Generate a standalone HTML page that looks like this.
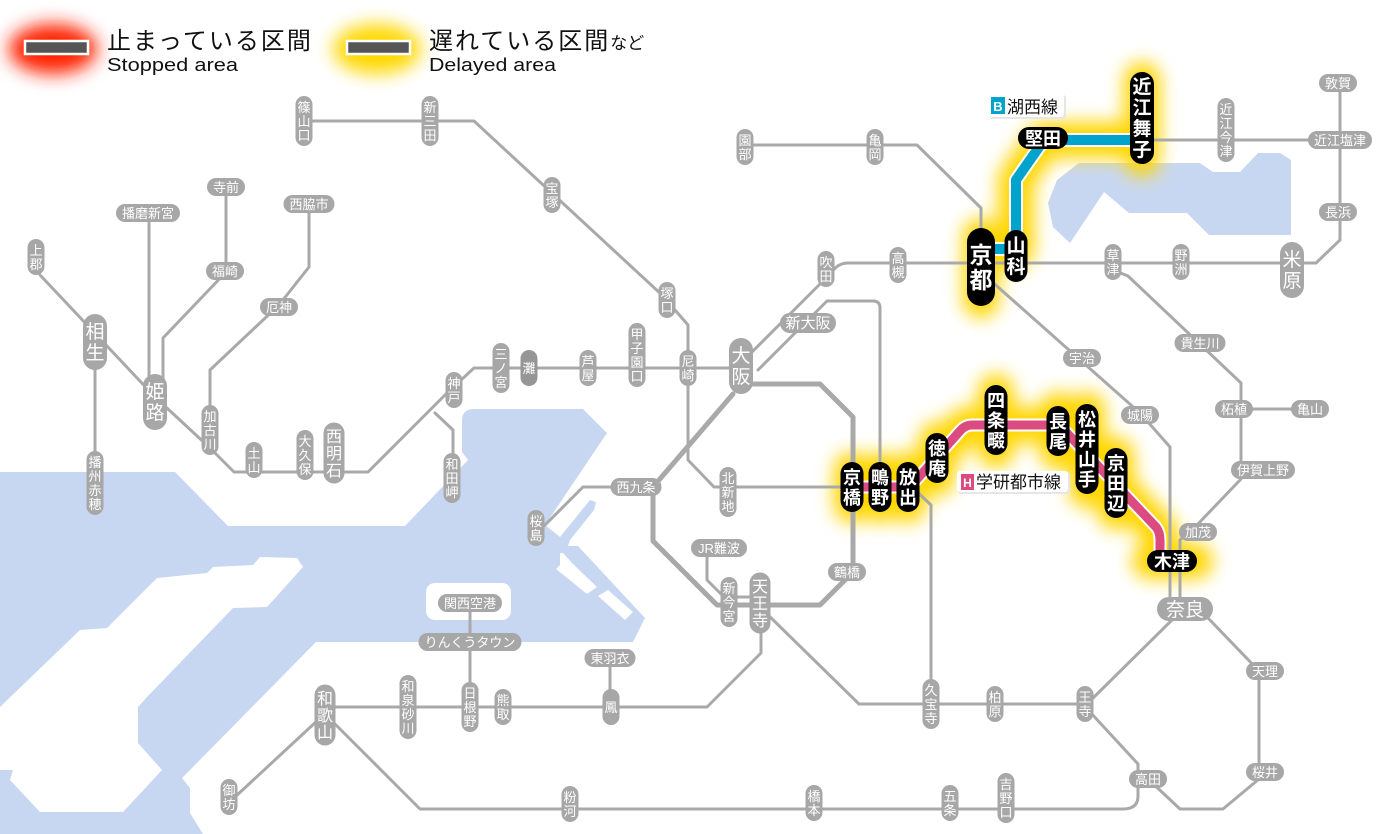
<!DOCTYPE html>
<html><head><meta charset="utf-8">
<style>
html,body{margin:0;padding:0;background:#fff;}
svg{display:block;}
.l{fill:none;stroke:#a9a9a9;stroke-width:3;stroke-linejoin:round;stroke-linecap:round}
.p{fill:#a7a7a7}
.t{fill:#fff;font-family:"Liberation Sans","Noto Sans CJK JP",sans-serif;font-size:13px;text-anchor:middle}
.T{fill:#fff;font-family:"Liberation Sans","Noto Sans CJK JP",sans-serif;font-size:19px;text-anchor:middle}
.M{fill:#fff;font-family:"Liberation Sans","Noto Sans CJK JP",sans-serif;font-size:16px;text-anchor:middle}
.k{fill:#000}
.w{fill:#fff;font-family:"Liberation Sans","Noto Sans CJK JP",sans-serif;font-size:18px;font-weight:bold;text-anchor:middle}
.j{font-family:"Liberation Sans","Noto Sans CJK JP",sans-serif;fill:#111}
</style></head>
<body>
<svg width="1400" height="834" viewBox="0 0 1400 834" xmlns="http://www.w3.org/2000/svg">
<defs>
<filter id="g" x="0" y="0" width="1400" height="834" filterUnits="userSpaceOnUse"><feGaussianBlur stdDeviation="9"/></filter>
<filter id="g2" x="0" y="0" width="1400" height="834" filterUnits="userSpaceOnUse"><feGaussianBlur stdDeviation="9"/></filter>
</defs>
<rect width="1400" height="834" fill="#fff"/>

<!-- water -->
<path fill="#c8d7f1" d="M0,472 H175 L228,526 H405 L468,460 L462,452 V421 Q462,409 474,409 H583 L607,433 L545,525 L560,537 L590,500 L596,502 L594,510 L570,540 L568,546 L578,546 L645,618 L633,642 H316 L190,770 L182,778 L190,788 V813 L203,834 H0 Z"/>
<!-- Awaji -->
<path fill="#fff" d="M260,557 L297,558 L303,567 L267,607 L233,608 L147,697 L138,707 V743 L162,770 L123,812 H40 L10,780 L13,770 H0 V707 L80,630 L107,628 L157,578 L207,573 L213,567 L253,565 Z"/>
<!-- harbor islands -->
<path fill="#fff" d="M547,553 H560 V565 L556,569 L587,594 L597,587 L572,563 L563,553 Z"/>
<path fill="#fff" d="M598,596 L608,590 L633,612 L625,620 Z"/>
<!-- airport -->
<rect x="426" y="583" width="85" height="37" rx="9" fill="#fff"/>
<!-- Biwa lake -->
<path fill="#c8d7f1" d="M1079,163 H1200 L1213,172 H1240 L1258,153 H1280 L1291,160 V235 H1209 L1187,213 H1129 L1104,192 L1070,243 L1053,227 L1048,203 L1057,180 Z"/>

<!-- legend -->
<ellipse cx="53" cy="49" rx="44" ry="25" fill="#ff2400" filter="url(#g)"/>
<rect x="25" y="41" width="63" height="13" fill="#555" stroke="#fff" stroke-width="2.5"/>
<ellipse cx="377" cy="49" rx="44" ry="25" fill="#ffd800" filter="url(#g)"/>
<rect x="347" y="41" width="63" height="13" fill="#555" stroke="#fff" stroke-width="2.5"/>
<text class="j" x="107" y="49" font-size="24" letter-spacing="2">止まっている区間</text>
<text class="j" x="107" y="71" font-size="18" textLength="131" lengthAdjust="spacingAndGlyphs">Stopped area</text>
<text class="j" x="429" y="49" font-size="24" letter-spacing="2">遅れている区間<tspan font-size="17" letter-spacing="0">など</tspan></text>
<text class="j" x="429" y="71" font-size="18" textLength="127" lengthAdjust="spacingAndGlyphs">Delayed area</text>

<!-- yellow glow -->
<path fill="none" stroke="#ffd600" stroke-width="36" stroke-linecap="round" stroke-linejoin="round" filter="url(#g2)" d="M852,487 H910 L966,425 H1058 L1160,532 V561 M1150,561 H1195 M852,470 V505 M880,470 V505 M908,470 V505 M937,440 V478 M996,392 V450 M1058,410 V452 M1087,410 V490 M1116,455 V512 M981,236 V300 M981,250 H1016 V180 L1044,140 H1142 M1142,80 V158"/>

<!-- gray lines -->
<g class="l">
<path d="M304,121 H474 L662,295 L688,325 V460 L714,487 H853"/>
<path d="M745,145 H917 L981,208 V235"/>
<path d="M848,263 H1316 L1340,240 V83"/>
<path d="M848,263 Q838,263 832,272 L748,356"/>
<path d="M758,370 L827,301 H873 Q880,301 880,308 V487"/>
<path d="M741,384 H820 L853,417 V572 L820,605 H717 L653,541 V487 L733,394" style="stroke-width:5"/>
<path d="M40,275 L155,397 L209,447 L234,472 H368 L446,394 L474,368 H741"/>
<path d="M95,342 V483"/>
<path d="M149,213 V395"/>
<path d="M226,187 V272 L163,338 V395"/>
<path d="M309,204 V267 L279,305 L210,370 V430"/>
<path d="M435,413 L453,430 V478"/>
<path d="M636,487 H583 L543,527"/>
<path d="M707,548 V580 L724,597"/>
<path d="M729,597 H760"/>
<path d="M761,610 V653 L707,707 H326"/>
<path d="M470,603 V707"/>
<path d="M610,658 V707"/>
<path d="M318,720 L235,797"/>
<path d="M333,722 L420,809 H1123 Q1138,809 1138,796 V779"/>
<path d="M765,612 L859,704 H1087"/>
<path d="M1087,704 L1172,620"/>
<path d="M1090,712 L1138,764 V779"/>
<path d="M1148,779 L1180,809 H1223 L1259,779 V671 L1208,618 L1188,608"/>
<path d="M990,280 L1140,413 L1170,447 V608"/>
<path d="M1113,270 L1128,276 L1241,383 V479 L1197,525 L1180,540 V608"/>
<path d="M1241,409 H1310"/>
<path d="M1142,140 H1340"/>
<path d="M912,487 L931,505 V706"/>
</g>

<!-- gray pills vertical -->
<g class="p">
<rect x="295.5" y="96" width="17" height="50" rx="8.5"/>
<rect x="421.5" y="96" width="17" height="50" rx="8.5"/>
<rect x="543.5" y="177" width="17" height="36" rx="8.5"/>
<rect x="658.5" y="282" width="17" height="36" rx="8.5"/>
<rect x="27.5" y="239" width="17" height="36" rx="8.5"/>
<rect x="201.5" y="405" width="17" height="50" rx="8.5"/>
<rect x="245.5" y="442" width="17" height="36" rx="8.5"/>
<rect x="296.5" y="430" width="17" height="50" rx="8.5"/>
<rect x="445.5" y="372" width="17" height="36" rx="8.5"/>
<rect x="492.5" y="343" width="17" height="50" rx="8.5"/>
<rect x="579.5" y="350" width="17" height="36" rx="8.5"/>
<rect x="628.5" y="323" width="17" height="64" rx="8.5"/>
<rect x="679.5" y="350" width="17" height="36" rx="8.5"/>
<rect x="86.5" y="451" width="17" height="64" rx="8.5"/>
<rect x="443.5" y="453" width="17" height="50" rx="8.5"/>
<rect x="527.5" y="510" width="17" height="36" rx="8.5"/>
<rect x="719.5" y="467" width="17" height="50" rx="8.5"/>
<rect x="720.5" y="577" width="17" height="50" rx="8.5"/>
<rect x="736.5" y="129" width="17" height="36" rx="8.5"/>
<rect x="866.5" y="129" width="17" height="36" rx="8.5"/>
<rect x="817.5" y="251" width="17" height="36" rx="8.5"/>
<rect x="889.5" y="247" width="17" height="36" rx="8.5"/>
<rect x="1104.5" y="244" width="17" height="36" rx="8.5"/>
<rect x="1172.5" y="244" width="17" height="36" rx="8.5"/>
<rect x="1217.5" y="98" width="17" height="64" rx="8.5"/>
<rect x="602.5" y="689" width="17" height="36" rx="8.5"/>
<rect x="494.5" y="689" width="17" height="36" rx="8.5"/>
<rect x="461.5" y="682" width="17" height="50" rx="8.5"/>
<rect x="399.5" y="675" width="17" height="64" rx="8.5"/>
<rect x="220.5" y="779" width="17" height="36" rx="8.5"/>
<rect x="561.5" y="786" width="17" height="36" rx="8.5"/>
<rect x="805.5" y="785" width="17" height="36" rx="8.5"/>
<rect x="941.5" y="785" width="17" height="36" rx="8.5"/>
<rect x="997.5" y="773" width="17" height="50" rx="8.5"/>
<rect x="922.5" y="679" width="17" height="50" rx="8.5"/>
<rect x="986.5" y="686" width="17" height="36" rx="8.5"/>
<rect x="1076.5" y="686" width="17" height="36" rx="8.5"/>
<!-- horizontal -->
<rect x="207" y="178" width="38" height="18" rx="9"/>
<rect x="116" y="204" width="64" height="18" rx="9"/>
<rect x="283.5" y="195" width="51" height="18" rx="9"/>
<rect x="206" y="262" width="38" height="18" rx="9"/>
<rect x="260" y="298" width="38" height="18" rx="9"/>
<rect x="610.5" y="478" width="51" height="18" rx="9"/>
<rect x="780" y="313" width="56" height="20" rx="10"/>
<rect x="691" y="539" width="56" height="18" rx="9"/>
<rect x="828" y="563" width="38" height="18" rx="9"/>
<rect x="1063" y="349" width="38" height="18" rx="9"/>
<rect x="1121" y="406" width="38" height="18" rx="9"/>
<rect x="1174.5" y="334" width="51" height="18" rx="9"/>
<rect x="1215" y="400" width="38" height="18" rx="9"/>
<rect x="1291" y="400" width="38" height="18" rx="9"/>
<rect x="1231" y="461" width="64" height="18" rx="9"/>
<rect x="1179" y="523" width="38" height="18" rx="9"/>
<rect x="1246" y="662" width="38" height="18" rx="9"/>
<rect x="1246" y="763" width="38" height="18" rx="9"/>
<rect x="1129" y="770" width="38" height="18" rx="9"/>
<rect x="1319" y="74" width="38" height="18" rx="9"/>
<rect x="1308" y="131" width="64" height="18" rx="9"/>
<rect x="1319" y="203" width="38" height="18" rx="9"/>
<rect x="438" y="594" width="64" height="18" rx="9"/>
<rect x="418.5" y="633" width="103" height="18" rx="9"/>
<rect x="584.5" y="649" width="51" height="18" rx="9"/>
<!-- large -->
<rect x="83" y="314" width="24" height="56" rx="12"/>
<rect x="143" y="374" width="24" height="56" rx="12"/>
<rect x="729" y="338" width="24" height="56" rx="12"/>
<rect x="1280" y="242" width="24" height="56" rx="12"/>
<rect x="323.5" y="422.5" width="21" height="61" rx="10.5"/>
<rect x="749.5" y="572.5" width="21" height="61" rx="10.5"/>
<rect x="314.5" y="684.5" width="21" height="61" rx="10.5"/>
<rect x="1157" y="597" width="56" height="24" rx="12"/>
</g>
<rect x="520.5" y="350" width="17" height="36" rx="8.5" fill="#969696"/>

<!-- gray pill texts -->
<text class="t" x="304"><tspan x="304" y="112">篠</tspan><tspan x="304" y="126">山</tspan><tspan x="304" y="140">口</tspan></text>
<text class="t" x="430"><tspan x="430" y="112">新</tspan><tspan x="430" y="126">三</tspan><tspan x="430" y="140">田</tspan></text>
<text class="t" x="552"><tspan x="552" y="193">宝</tspan><tspan x="552" y="207">塚</tspan></text>
<text class="t" x="667"><tspan x="667" y="298">塚</tspan><tspan x="667" y="312">口</tspan></text>
<text class="t" x="36"><tspan x="36" y="255">上</tspan><tspan x="36" y="269">郡</tspan></text>
<text class="t" x="210"><tspan x="210" y="421">加</tspan><tspan x="210" y="435">古</tspan><tspan x="210" y="449">川</tspan></text>
<text class="t" x="254"><tspan x="254" y="458">土</tspan><tspan x="254" y="472">山</tspan></text>
<text class="t" x="305"><tspan x="305" y="446">大</tspan><tspan x="305" y="460">久</tspan><tspan x="305" y="474">保</tspan></text>
<text class="t" x="454"><tspan x="454" y="388">神</tspan><tspan x="454" y="402">戸</tspan></text>
<text class="t" x="501"><tspan x="501" y="359">三</tspan><tspan x="501" y="373">ノ</tspan><tspan x="501" y="387">宮</tspan></text>
<text class="t" x="588"><tspan x="588" y="366">芦</tspan><tspan x="588" y="380">屋</tspan></text>
<text class="t" x="637"><tspan x="637" y="339">甲</tspan><tspan x="637" y="353">子</tspan><tspan x="637" y="367">園</tspan><tspan x="637" y="381">口</tspan></text>
<text class="t" x="688"><tspan x="688" y="366">尼</tspan><tspan x="688" y="380">崎</tspan></text>
<text class="t" x="95"><tspan x="95" y="467">播</tspan><tspan x="95" y="481">州</tspan><tspan x="95" y="495">赤</tspan><tspan x="95" y="509">穂</tspan></text>
<text class="t" x="452"><tspan x="452" y="469">和</tspan><tspan x="452" y="483">田</tspan><tspan x="452" y="497">岬</tspan></text>
<text class="t" x="536"><tspan x="536" y="526">桜</tspan><tspan x="536" y="540">島</tspan></text>
<text class="t" x="728"><tspan x="728" y="483">北</tspan><tspan x="728" y="497">新</tspan><tspan x="728" y="511">地</tspan></text>
<text class="t" x="729"><tspan x="729" y="593">新</tspan><tspan x="729" y="607">今</tspan><tspan x="729" y="621">宮</tspan></text>
<text class="t" x="745"><tspan x="745" y="145">園</tspan><tspan x="745" y="159">部</tspan></text>
<text class="t" x="875"><tspan x="875" y="145">亀</tspan><tspan x="875" y="159">岡</tspan></text>
<text class="t" x="826"><tspan x="826" y="267">吹</tspan><tspan x="826" y="281">田</tspan></text>
<text class="t" x="898"><tspan x="898" y="263">高</tspan><tspan x="898" y="277">槻</tspan></text>
<text class="t" x="1113"><tspan x="1113" y="260">草</tspan><tspan x="1113" y="274">津</tspan></text>
<text class="t" x="1181"><tspan x="1181" y="260">野</tspan><tspan x="1181" y="274">洲</tspan></text>
<text class="t" x="1226"><tspan x="1226" y="114">近</tspan><tspan x="1226" y="128">江</tspan><tspan x="1226" y="142">今</tspan><tspan x="1226" y="156">津</tspan></text>
<text class="t" x="611" y="712">鳳</text>
<text class="t" x="529" y="373">灘</text>
<text class="t" x="503"><tspan x="503" y="705">熊</tspan><tspan x="503" y="719">取</tspan></text>
<text class="t" x="470"><tspan x="470" y="698">日</tspan><tspan x="470" y="712">根</tspan><tspan x="470" y="726">野</tspan></text>
<text class="t" x="408"><tspan x="408" y="691">和</tspan><tspan x="408" y="705">泉</tspan><tspan x="408" y="719">砂</tspan><tspan x="408" y="733">川</tspan></text>
<text class="t" x="229"><tspan x="229" y="795">御</tspan><tspan x="229" y="809">坊</tspan></text>
<text class="t" x="570"><tspan x="570" y="802">粉</tspan><tspan x="570" y="816">河</tspan></text>
<text class="t" x="814"><tspan x="814" y="801">橋</tspan><tspan x="814" y="815">本</tspan></text>
<text class="t" x="950"><tspan x="950" y="801">五</tspan><tspan x="950" y="815">条</tspan></text>
<text class="t" x="1006"><tspan x="1006" y="789">吉</tspan><tspan x="1006" y="803">野</tspan><tspan x="1006" y="817">口</tspan></text>
<text class="t" x="931"><tspan x="931" y="695">久</tspan><tspan x="931" y="709">宝</tspan><tspan x="931" y="723">寺</tspan></text>
<text class="t" x="995"><tspan x="995" y="702">柏</tspan><tspan x="995" y="716">原</tspan></text>
<text class="t" x="1085"><tspan x="1085" y="702">王</tspan><tspan x="1085" y="716">寺</tspan></text>

<text class="t" x="226" y="192">寺前</text>
<text class="t" x="148" y="218">播磨新宮</text>
<text class="t" x="309" y="209">西脇市</text>
<text class="t" x="225" y="276">福崎</text>
<text class="t" x="279" y="312">厄神</text>
<text class="t" x="636" y="492">西九条</text>
<text class="t" x="808" y="328" style="font-size:15px">新大阪</text>
<text class="t" x="719" y="553">JR難波</text>
<text class="t" x="847" y="577">鶴橋</text>
<text class="t" x="1082" y="363">宇治</text>
<text class="t" x="1140" y="420">城陽</text>
<text class="t" x="1200" y="348">貴生川</text>
<text class="t" x="1234" y="414">柘植</text>
<text class="t" x="1310" y="414">亀山</text>
<text class="t" x="1263" y="475">伊賀上野</text>
<text class="t" x="1198" y="537">加茂</text>
<text class="t" x="1265" y="676">天理</text>
<text class="t" x="1265" y="777">桜井</text>
<text class="t" x="1148" y="784">高田</text>
<text class="t" x="1338" y="88">敦賀</text>
<text class="t" x="1340" y="145">近江塩津</text>
<text class="t" x="1338" y="217">長浜</text>
<text class="t" x="470" y="608">関西空港</text>
<text class="t" x="470" y="647">りんくうタウン</text>
<text class="t" x="610" y="663">東羽衣</text>

<text class="T" x="95"><tspan x="95" y="338">相</tspan><tspan x="95" y="359">生</tspan></text>
<text class="T" x="155"><tspan x="155" y="398">姫</tspan><tspan x="155" y="419">路</tspan></text>
<text class="T" x="741"><tspan x="741" y="362">大</tspan><tspan x="741" y="383">阪</tspan></text>
<text class="T" x="1292"><tspan x="1292" y="266">米</tspan><tspan x="1292" y="287">原</tspan></text>
<text class="M" x="334"><tspan x="334" y="442">西</tspan><tspan x="334" y="459">明</tspan><tspan x="334" y="476">石</tspan></text>
<text class="M" x="760"><tspan x="760" y="592">天</tspan><tspan x="760" y="609">王</tspan><tspan x="760" y="626">寺</tspan></text>
<text class="M" x="325"><tspan x="325" y="704">和</tspan><tspan x="325" y="721">歌</tspan><tspan x="325" y="738">山</tspan></text>
<text class="T" x="1185" y="616">奈良</text>

<!-- colored lines -->
<path fill="none" stroke="#fff" stroke-width="14" stroke-linejoin="round" d="M985,249 H1016 V180 L1044,140 H1140"/>
<path fill="none" stroke="#00a3cc" stroke-width="10" stroke-linejoin="round" d="M985,249 H1016 V180 L1044,140 H1140"/>
<path fill="none" stroke="#fff" stroke-width="13" stroke-linejoin="round" d="M853,487 H910 L960,431 Q965,425 972,425 H1054 Q1060,425 1064,430 L1156,527 Q1160,532 1160,540 V558"/>
<path fill="none" stroke="#db4b7f" stroke-width="9" stroke-linejoin="round" d="M853,487 H910 L960,431 Q965,425 972,425 H1054 Q1060,425 1064,430 L1156,527 Q1160,532 1160,540 V558"/>

<!-- black pills -->
<g class="k">
<rect x="967" y="228" width="28" height="78" rx="14"/>
<rect x="1004.5" y="230" width="23" height="52" rx="11.5"/>
<rect x="1018" y="127" width="50" height="22" rx="11"/>
<rect x="1130" y="72" width="24" height="92" rx="12"/>
<rect x="840.5" y="462" width="23" height="50" rx="11.5"/>
<rect x="868.5" y="462" width="23" height="50" rx="11.5"/>
<rect x="896.5" y="462" width="23" height="50" rx="11.5"/>
<rect x="925.5" y="433" width="23" height="50" rx="11.5"/>
<rect x="984.5" y="385" width="23" height="70" rx="11.5"/>
<rect x="1046.5" y="406" width="23" height="50" rx="11.5"/>
<rect x="1075.5" y="404" width="23" height="90" rx="11.5"/>
<rect x="1104.5" y="448" width="23" height="70" rx="11.5"/>
<rect x="1147" y="550" width="50" height="22" rx="11"/>
</g>
<text class="w" x="981" style="font-size:23px"><tspan x="981" y="263">京</tspan><tspan x="981" y="288">都</tspan></text>
<text class="w" x="1016" style="font-size:19px"><tspan x="1016" y="252">山</tspan><tspan x="1016" y="273">科</tspan></text>
<text class="w" x="1043" y="145">堅田</text>
<text class="w" x="1142" style="font-size:19px"><tspan x="1142" y="93">近</tspan><tspan x="1142" y="114">江</tspan><tspan x="1142" y="135">舞</tspan><tspan x="1142" y="156">子</tspan></text>
<text class="w" x="852"><tspan x="852" y="484">京</tspan><tspan x="852" y="504">橋</tspan></text>
<text class="w" x="880"><tspan x="880" y="484">鴫</tspan><tspan x="880" y="504">野</tspan></text>
<text class="w" x="908"><tspan x="908" y="484">放</tspan><tspan x="908" y="504">出</tspan></text>
<text class="w" x="937"><tspan x="937" y="455">徳</tspan><tspan x="937" y="475">庵</tspan></text>
<text class="w" x="996"><tspan x="996" y="407">四</tspan><tspan x="996" y="427">条</tspan><tspan x="996" y="447">畷</tspan></text>
<text class="w" x="1058"><tspan x="1058" y="428">長</tspan><tspan x="1058" y="448">尾</tspan></text>
<text class="w" x="1087"><tspan x="1087" y="426">松</tspan><tspan x="1087" y="446">井</tspan><tspan x="1087" y="466">山</tspan><tspan x="1087" y="486">手</tspan></text>
<text class="w" x="1116"><tspan x="1116" y="470">京</tspan><tspan x="1116" y="490">田</tspan><tspan x="1116" y="510">辺</tspan></text>
<text class="w" x="1172" y="568">木津</text>

<!-- line labels -->
<rect x="989" y="95" width="77" height="24" rx="3" fill="#e6e6e6"/>
<rect x="988" y="94" width="76" height="23" rx="3" fill="#fff"/>
<rect x="991" y="97" width="14" height="17" fill="#00a3cc"/>
<text x="998" y="111" font-family="Liberation Sans, sans-serif" font-size="13" font-weight="bold" fill="#fff" text-anchor="middle">B</text>
<text class="j" x="1007" y="113" font-size="17">湖西線</text>

<rect x="958" y="472" width="112" height="22" rx="3" fill="#e6e6e6"/>
<rect x="957" y="471" width="111" height="21" rx="3" fill="#fff"/>
<rect x="961" y="474" width="13" height="16" fill="#db4b7f"/>
<text x="967.5" y="487" font-family="Liberation Sans, sans-serif" font-size="12" font-weight="bold" fill="#fff" text-anchor="middle">H</text>
<text class="j" x="976" y="488" font-size="17">学研都市線</text>
</svg>
</body></html>
